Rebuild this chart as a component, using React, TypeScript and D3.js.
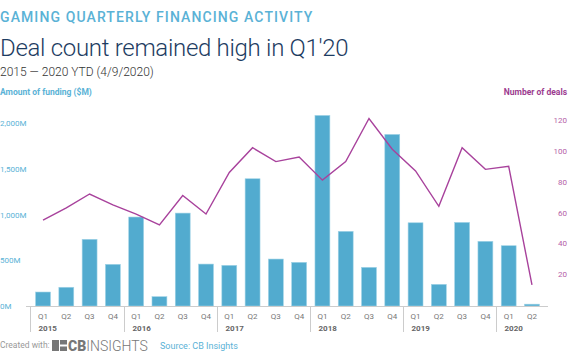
import React, { useEffect, useRef } from "react";
import * as d3 from "d3";

const years = ["2015", "2016", "2017", "2018", "2019", "2020"];
const quarters = ["Q1", "Q2", "Q3", "Q4"];
const periods = [
  "2015Q1", "2015Q2", "2015Q3", "2015Q4",
  "2016Q1", "2016Q2", "2016Q3", "2016Q4",
  "2017Q1", "2017Q2", "2017Q3", "2017Q4",
  "2018Q1", "2018Q2", "2018Q3", "2018Q4",
  "2019Q1", "2019Q2", "2019Q3", "2019Q4",
  "2020Q1", "2020Q2",
];
const funding = [
  153, 205, 730, 456,
  974, 102, 1017, 459,
  445, 1393, 514, 478,
  2086, 817, 423, 1878,
  911, 237, 915, 708,
  660, 20,
];
const deals = [
  55, 63, 72, 65,
  59, 52, 71, 59,
  86, 102, 93, 96,
  81, 93, 121, 101,
  87, 64, 102, 88,
  90, 13,
];
const fundingTicks = [0, 500, 1000, 1500, 2000];
const dealTicks = [20, 40, 60, 80, 100, 120];

const App: React.FC = () => {
  const ref = useRef<SVGSVGElement>(null);

  useEffect(() => {
    const width = 572;
    const height = 364;
    const base = 306;
    const svg = d3.select(ref.current);
    svg.selectAll("*").remove();
    svg.attr("width", width).attr("height", height).style("font-family", "Roboto, sans-serif");

    const x = d3.scaleBand().domain(periods).range([27.2, 547.8]).padding(0.36);
    const yL = d3.scaleLinear().domain([0, 2000]).range([base, 123.3]);
    const yR = d3.scaleLinear().domain([0, 120]).range([305, 120]);

    // titles
    svg.append("text").attr("x", 0).attr("y", 22).attr("fill", "#5ab2d6")
      .style("font-size", "14px").style("letter-spacing", "1.1px").style("font-weight", 500)
      .text("GAMING QUARTERLY FINANCING ACTIVITY");
    svg.append("text").attr("x", 0).attr("y", 56).attr("fill", "#1d3c62")
      .style("font-size", "24px").style("font-weight", 300).style("letter-spacing", "-0.3px")
      .text("Deal count remained high in Q1'20");
    svg.append("text").attr("x", 0).attr("y", 76).attr("fill", "#333")
      .style("font-size", "12px").style("font-weight", 300)
      .text("2015 \u2014 2020 YTD (4/9/2020)");

    svg.append("text").attr("x", 0).attr("y", 95).attr("fill", "#5ab2d6")
      .style("font-size", "8.5px").style("font-weight", 700)
      .text("Amount of funding ($M)");
    svg.append("text").attr("x", 567).attr("y", 95).attr("fill", "#9c3b8f")
      .attr("text-anchor", "end").style("font-size", "8.5px").style("font-weight", 700)
      .text("Number of deals");

    // left axis labels
    svg.append("g").selectAll("text").data(fundingTicks).enter().append("text")
      .attr("x", 0).attr("y", (d) => yL(d) + 3).attr("fill", "#5ab2d6")
      .style("font-size", "8px")
      .text((d) => d3.format(",")(d) + "M");

    // right axis labels
    svg.append("g").selectAll("text").data(dealTicks).enter().append("text")
      .attr("x", 567).attr("y", (d) => yR(d) + 3).attr("text-anchor", "end").attr("fill", "#b560a8")
      .style("font-size", "8px")
      .text((d) => d);

    // bars
    svg.append("g").selectAll("rect").data(funding).enter().append("rect")
      .attr("x", (_, i) => x(periods[i])!)
      .attr("y", (d) => yL(d))
      .attr("width", x.bandwidth())
      .attr("height", (d) => base - yL(d))
      .attr("fill", "#52abcf")
      .attr("stroke", "#9fd3e6")
      .attr("stroke-width", 0.6);

    // baseline
    svg.append("line").attr("x1", 26).attr("x2", 548).attr("y1", base + 0.5).attr("y2", base + 0.5)
      .attr("stroke", "#ccc");

    // quarter labels
    svg.append("g").selectAll("text").data(periods).enter().append("text")
      .attr("x", (d) => x(d)! + x.bandwidth() / 2)
      .attr("y", 319).attr("text-anchor", "middle").attr("fill", "#777")
      .style("font-size", "8px")
      .text((d) => quarters[+d.slice(5) - 1]);

    // year separators and labels
    years.forEach((yr) => {
      const first = periods.indexOf(yr + "Q1");
      const sx = Math.round(x(periods[first])! - (x.step() * x.paddingInner()) / 2 - 1) + 0.5;
      svg.append("line").attr("x1", sx).attr("x2", sx).attr("y1", base).attr("y2", 332)
        .attr("stroke", "#ccc");
      svg.append("text").attr("x", sx + 8).attr("y", 331).attr("fill", "#666")
        .style("font-size", "8px").style("font-weight", 700)
        .text(yr);
    });

    // deal line
    const line = d3.line<number>()
      .x((_, i) => x(periods[i])! + x.bandwidth() / 2)
      .y((d) => yR(d));
    svg.append("path").datum(deals).attr("d", line).attr("fill", "none")
      .attr("stroke", "#a8429c").attr("stroke-width", 1.4);

    // footer
    svg.append("text").attr("x", 0).attr("y", 348).attr("fill", "#999")
      .style("font-size", "8.5px").text("Created with:");
    const logo = svg.append("g").attr("transform", "translate(52,340)");
    logo.append("rect").attr("x", 0).attr("y", 0).attr("width", 7).attr("height", 11).attr("fill", "#777");
    logo.append("rect").attr("x", 8).attr("y", 0).attr("width", 7).attr("height", 4.5).attr("fill", "#777");
    logo.append("rect").attr("x", 8).attr("y", 6.5).attr("width", 7).attr("height", 4.5).attr("fill", "#777");
    logo.append("text").attr("x", 16).attr("y", 11).attr("fill", "#777")
      .style("font-size", "14px")
      .call((t) => {
        t.append("tspan").style("font-weight", 900).text("CB");
        t.append("tspan").style("font-weight", 300).text("INSIGHTS");
      });
    svg.append("text").attr("x", 160).attr("y", 349).attr("fill", "#5ab2d6")
      .style("font-size", "9px").text("Source: CB Insights");
  }, []);

  return (
    <div style={{ position: "fixed", left: 0, top: 0, background: "#fff" }}>
      <svg ref={ref}></svg>
    </div>
  );
};

export default App;
